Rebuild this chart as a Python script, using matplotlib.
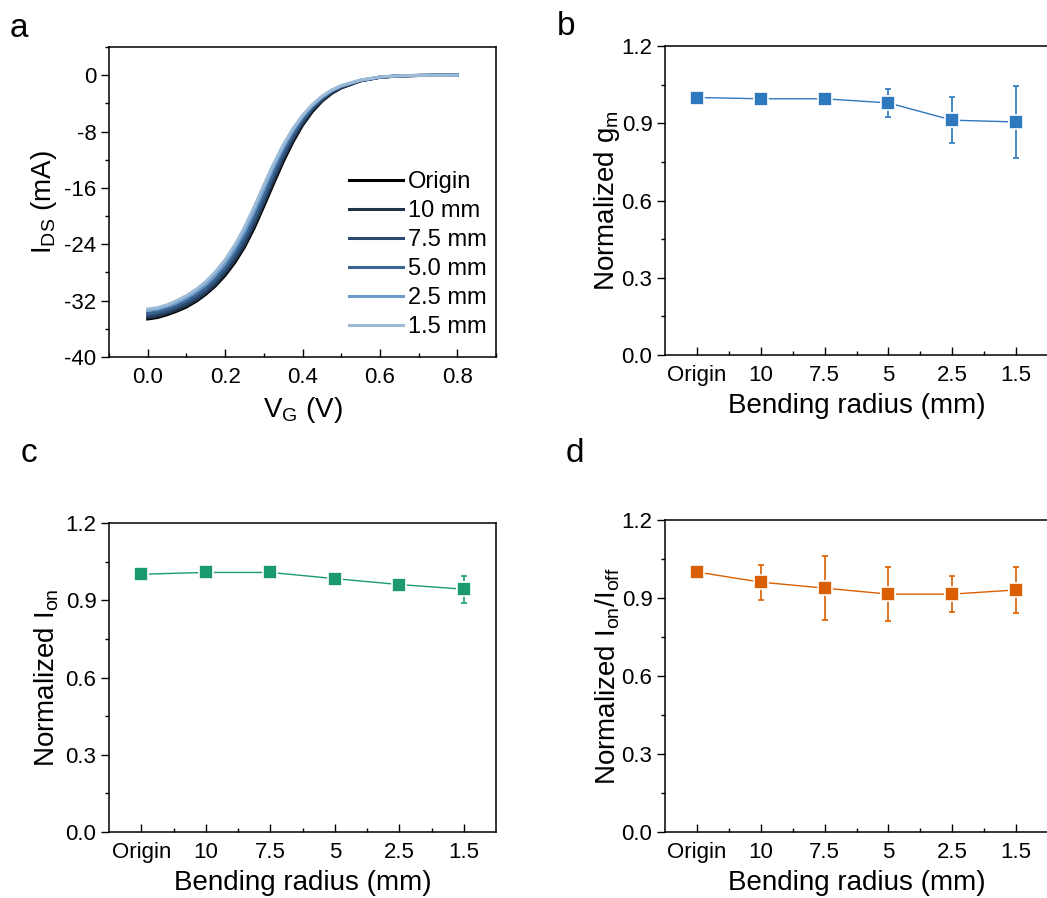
import numpy as np
import matplotlib.pyplot as plt
from matplotlib.ticker import MultipleLocator

plt.rcParams['font.family'] = ['Liberation Sans', 'DejaVu Sans']
plt.rcParams['mathtext.default'] = 'regular'
plt.rcParams['axes.unicode_minus'] = False

# panel a: transfer curves
V_G = [0, 0.025, 0.05, 0.075, 0.1, 0.125, 0.15, 0.175, 0.2, 0.225, 0.25, 0.275, 0.3, 0.325,
       0.35, 0.375, 0.4, 0.425, 0.45, 0.475, 0.5, 0.55, 0.6, 0.65, 0.7, 0.75, 0.8]
I_origin = [-34.6, -34.4, -34.0, -33.5, -32.9, -32.1, -31.1, -29.9, -28.4, -26.6, -24.4, -21.7, -18.6, -15.4,
            -12.3, -9.5, -7.1, -5.2, -3.7, -2.6, -1.8, -0.8, -0.3, -0.1, -0.04, -0.01, 0.0]
I_10 = [-34.4, -34.2, -33.8, -33.3, -32.7, -31.9, -30.9, -29.7, -28.1, -26.3, -24.1, -21.3, -18.2, -15.0,
        -11.9, -9.2, -6.9, -5.0, -3.6, -2.5, -1.8, -0.8, -0.3, -0.1, -0.04, -0.01, 0.0]
I_7p5 = [-34.1, -33.9, -33.5, -33.0, -32.4, -31.6, -30.6, -29.3, -27.7, -25.8, -23.6, -20.8, -17.7, -14.5,
         -11.5, -8.8, -6.6, -4.8, -3.4, -2.4, -1.7, -0.75, -0.3, -0.1, -0.04, -0.01, 0.0]
I_5 = [-33.8, -33.6, -33.2, -32.7, -32.0, -31.2, -30.2, -28.9, -27.3, -25.3, -23.0, -20.2, -17.1, -13.9,
       -10.9, -8.4, -6.3, -4.6, -3.3, -2.3, -1.6, -0.75, -0.28, -0.09, -0.03, -0.01, 0.0]
I_2p5 = [-33.4, -33.2, -32.8, -32.3, -31.6, -30.7, -29.7, -28.3, -26.7, -24.6, -22.2, -19.3, -16.2, -13.1,
         -10.3, -7.9, -5.9, -4.3, -3.1, -2.2, -1.5, -0.7, -0.26, -0.08, -0.03, -0.01, 0.0]
I_1p5 = [-33.2, -33.0, -32.6, -32.0, -31.3, -30.4, -29.3, -27.9, -26.2, -24.1, -21.6, -18.7, -15.6, -12.6,
         -9.9, -7.6, -5.7, -4.2, -3.0, -2.1, -1.5, -0.7, -0.25, -0.08, -0.03, -0.01, 0.0]
curve_labels = ['Origin', '10 mm', '7.5 mm', '5.0 mm', '2.5 mm', '1.5 mm']
curve_colors = ['#000000', '#1f3449', '#2a4a72', '#3c6491', '#6a9bcb', '#9dbbd6']

# panels b-d: bending radius
radius_labels = ['Origin', '10', '7.5', '5', '2.5', '1.5']
gm_mean = [1.0, 0.995, 0.995, 0.979, 0.912, 0.905]
gm_err = [0.0, 0.015, 0.01, 0.054, 0.089, 0.14]
ion_mean = [1.001, 1.008, 1.008, 0.984, 0.961, 0.943]
ion_err = [0.0, 0.008, 0.008, 0.008, 0.008, 0.052]
ratio_mean = [1.0, 0.961, 0.938, 0.915, 0.915, 0.931]
ratio_err = [0.0, 0.067, 0.123, 0.104, 0.068, 0.09]

W, H = 1047, 898
fig = plt.figure(figsize=(W / 100, H / 100), dpi=100)


def box(left, top, right, bottom):
    return [left / W, 1 - bottom / H, (right - left) / W, (bottom - top) / H]


def style(ax):
    ax.tick_params(axis='x', which='both', direction='in', labelsize=16, pad=7)
    ax.tick_params(axis='y', which='both', direction='out', labelsize=16, pad=3)
    ax.tick_params(which='major', length=6, width=1)
    ax.tick_params(which='minor', length=3, width=1)
    for s in ax.spines.values():
        s.set_linewidth(1.1)


ax_a = fig.add_axes(box(109, 47, 496, 357))
ax_b = fig.add_axes(box(665, 46, 1048, 355))
ax_c = fig.add_axes(box(109, 523, 496, 832))
ax_d = fig.add_axes(box(665, 520, 1048, 832))

# a
for ys, lab, col in zip([I_origin, I_10, I_7p5, I_5, I_2p5, I_1p5], curve_labels, curve_colors):
    ax_a.plot(V_G, ys, color=col, lw=2.2, label=lab)
ax_a.set_xlim(-0.1, 0.9)
ax_a.set_ylim(-40, 4)
ax_a.xaxis.set_major_locator(MultipleLocator(0.2))
ax_a.xaxis.set_minor_locator(MultipleLocator(0.1))
ax_a.yaxis.set_major_locator(MultipleLocator(8))
ax_a.yaxis.set_minor_locator(MultipleLocator(4))
ax_a.xaxis.set_major_formatter(plt.FormatStrFormatter('%.1f'))
ax_a.set_xlabel('V$_G$ (V)', fontsize=20, labelpad=5)
ax_a.set_ylabel('I$_{DS}$ (mA)', fontsize=20, labelpad=4)
style(ax_a)
ax_a.legend(loc='lower right', bbox_to_anchor=(0.975, 0.06), frameon=False, fontsize=17,
            handlelength=2.3, handletextpad=0.2, labelspacing=0.3, borderpad=0, borderaxespad=0)

# b, c, d
x = np.arange(len(radius_labels))
panels = [(ax_b, gm_mean, gm_err, '#2e78bd', 'Normalized g$_m$', 0),
          (ax_c, ion_mean, ion_err, '#1b9a72', 'Normalized I$_{on}$', 3),
          (ax_d, ratio_mean, ratio_err, '#d95f02', 'Normalized I$_{on}$/I$_{off}$', 0)]
for ax, m, e, col, ylab, lp in panels:
    ax.errorbar(x, m, yerr=e, color=col, lw=1.0, elinewidth=1.2, capsize=2.5, capthick=1.0,
                marker='s', ms=10.5, mfc=col, mec='white', mew=1.2)
    ax.set_xlim(-0.5, 5.5)
    ax.set_ylim(0, 1.2)
    ax.set_xticks(x)
    ax.set_xticklabels(radius_labels)
    ax.xaxis.set_minor_locator(plt.FixedLocator(x[:-1] + 0.5))
    ax.yaxis.set_major_locator(MultipleLocator(0.3))
    ax.yaxis.set_minor_locator(MultipleLocator(0.15))
    ax.yaxis.set_major_formatter(plt.FormatStrFormatter('%.1f'))
    ax.set_xlabel('Bending radius (mm)', fontsize=20, labelpad=5)
    ax.set_ylabel(ylab, fontsize=20, labelpad=lp)
    style(ax)

for txt, px, py in [('a', 10, 37), ('b', 557, 35), ('c', 21, 462), ('d', 566, 462)]:
    fig.text(px / W, 1 - py / H, txt, fontsize=24, ha='left', va='baseline')

fig.savefig('out.png', dpi=100)
